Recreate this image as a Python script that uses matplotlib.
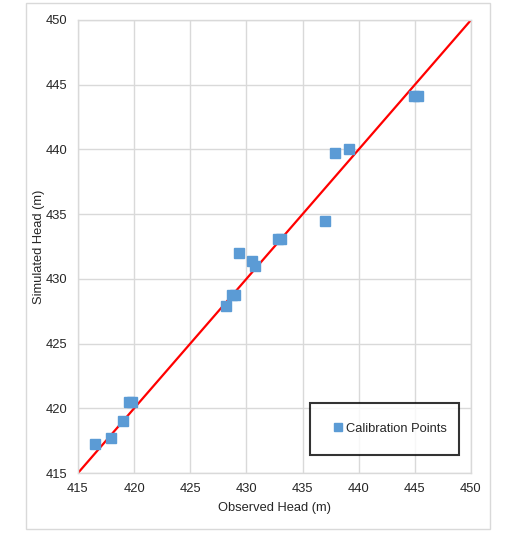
import matplotlib
matplotlib.use("Agg")
import matplotlib.pyplot as plt
from matplotlib.patches import Rectangle

plt.rcParams['font.family'] = ['Liberation Sans', 'DejaVu Sans']

# Calibration targets: observed vs simulated head (m)
observed = [416.5, 417.9, 419.0, 419.5, 419.8, 428.2, 428.7, 429.0,
            429.3, 430.5, 430.8, 432.8, 433.1, 437.0, 437.9, 439.1,
            444.9, 445.3]
simulated = [417.25, 417.7, 419.0, 420.45, 420.45, 427.9, 428.75, 428.75,
             431.97, 431.4, 431.0, 433.05, 433.05, 434.5, 439.75, 440.0,
             444.15, 444.15]

# 1:1 reference line
line_x = [415, 450]
line_y = [415, 450]

ticks = [415, 420, 425, 430, 435, 440, 445, 450]

W, H = 524, 539
FS = 9.3
fig = plt.figure(figsize=(W / 100, H / 100), dpi=100)

# Chart-area frame
fig.patches.append(Rectangle((26 / W, 1 - 529 / H), (490 - 26) / W, (529 - 3) / H,
                             transform=fig.transFigure, fill=False,
                             edgecolor='#d9d9d9', linewidth=1.0))

ax = fig.add_axes([78 / W, 1 - 473 / H, 393 / W, 453 / H])
ax.set_xlim(415, 450)
ax.set_ylim(415, 450)
ax.set_xticks(ticks)
ax.set_yticks(ticks)
ax.tick_params(length=0, labelsize=FS, colors='#262626')
ax.tick_params(axis='x', pad=7)
ax.tick_params(axis='y', pad=7.5)
ax.grid(True, color='#d9d9d9', linewidth=1.0)
ax.set_axisbelow(True)
for s in ax.spines.values():
    s.set_color('#d9d9d9')
    s.set_linewidth(1.0)

ax.plot(line_x, line_y, color='#ff0000', linewidth=1.6, zorder=2)
ax.plot(observed, simulated, linestyle='none', marker='s', markersize=7.3,
        color='#5b9bd5', markeredgecolor='#5b9bd5', zorder=3,
        label='Calibration Points')

ax.set_xlabel('Observed Head (m)', fontsize=FS, color='#262626', labelpad=5)
ax.set_ylabel('Simulated Head (m)', fontsize=FS, color='#262626')
ax.yaxis.set_label_coords(-0.085, 0.5)

leg = ax.legend(loc='lower left', bbox_to_anchor=((310 - 78) / 393, (473 - 455) / 453,
                                                   (459 - 310) / 393, 50 / 453),
                mode='expand', fontsize=FS, frameon=True, fancybox=False,
                handlelength=1.2, handletextpad=0.0, borderpad=1.55,
                markerscale=0.85, borderaxespad=0)
leg.get_frame().set_edgecolor('black')
leg.get_frame().set_linewidth(1.5)
for t in leg.get_texts():
    t.set_color('#262626')

fig.savefig('out.png', dpi=100)
